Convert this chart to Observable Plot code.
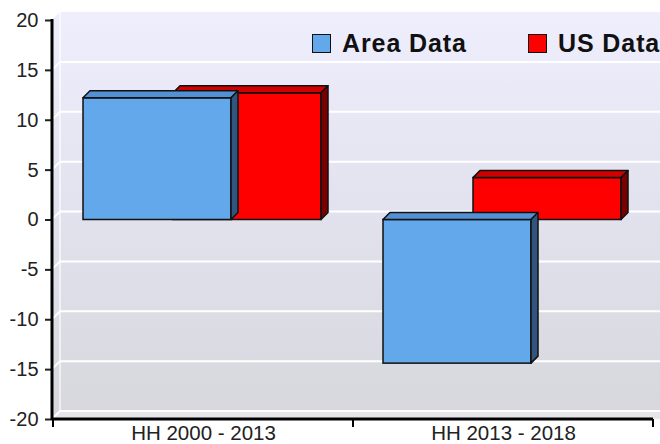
<!DOCTYPE html>
<html>
<head>
<meta charset="utf-8">
<script src="https://cdn.jsdelivr.net/npm/d3@7"></script>
<script src="https://cdn.jsdelivr.net/npm/@observablehq/plot@0.6"></script>
<style>
  body { margin: 0; background: #fff; }
  #wrap { position: relative; width: 660px; height: 444px; font-family: "Liberation Sans", Arial, sans-serif; overflow: hidden; }
  .item { position: absolute; top: 33px; height: 20px; display: flex; align-items: center; font-weight: bold; font-size: 25px; letter-spacing: 0.9px; color: #111; white-space: nowrap; z-index: 2; }
  .sw { width: 17px; height: 17px; border: 1.5px solid #111; margin-right: 11px; flex: none; }
  #wrap svg g[aria-label="y-axis tick"] path { stroke-width: 2; }
  #wrap svg g[aria-label="x-axis tick label"] text { font-size: 20.5px; }
</style>
</head>
<body>
<div id="wrap"></div>
<script>
// ---- data ----
const categories = ["HH 2000 - 2013", "HH 2013 - 2018"];
const seriesNames = ["Area Data", "US Data"];
const areaValues = [12.2, -14.4];
const usValues = [12.7, 4.2];
const yTicks = [-20, -15, -10, -5, 0, 5, 10, 15, 20];
const seriesColors = {
  "Area Data": { front: "#63a8eb", top: "#5390d4", side: "#30557f" },
  "US Data": { front: "#ff0000", top: "#d00000", side: "#780000" }
};

const areaRows = categories.map((c, i) => ({ category: c, value: areaValues[i] }));
const usRows = categories.map((c, i) => ({ category: c, value: usValues[i] }));

const BAR_DEPTH = 7;
const WALL_DEPTH = 8;
const W = 660, H = 444;
const ML = 52, MR = 7, MT = 20, MB = 25;

function bandwidthOf(scales, dims) {
  if (scales.x && typeof scales.x.bandwidth === "function") return scales.x.bandwidth();
  return (dims.width - dims.marginLeft - dims.marginRight) / categories.length;
}

// background walls + gridlines
function walls(index, scales, values, dims) {
  const g = d3.create("svg:g");
  const id = "wallGrad";
  const defs = g.append("defs");
  const lg = defs.append("linearGradient").attr("id", id).attr("x1", 0).attr("y1", 0).attr("x2", 0).attr("y2", 1);
  lg.append("stop").attr("offset", "0%").attr("stop-color", "#eeeefd");
  lg.append("stop").attr("offset", "50%").attr("stop-color", "#e2e2ee");
  lg.append("stop").attr("offset", "100%").attr("stop-color", "#d7d7dd");
  const yt = scales.y(d3.max(yTicks)), yb = scales.y(d3.min(yTicks));
  const x0 = dims.marginLeft, x1 = dims.width;
  const d = WALL_DEPTH;
  g.append("rect").attr("x", x0 + d).attr("y", yt - d).attr("width", x1 - x0 - d).attr("height", yb - yt)
    .attr("fill", `url(#${id})`);
  g.append("path").attr("d", `M${x0},${yt}L${x0 + d},${yt - d}L${x0 + d},${yb - d}L${x0},${yb}Z`)
    .attr("fill", `url(#${id})`);
  g.append("path").attr("d", `M${x0},${yb}L${x0 + d},${yb - d}L${x1},${yb - d}L${x1},${yb}Z`)
    .attr("fill", "#e6e6ea");
  g.append("line").attr("x1", x0 + d).attr("x2", x0 + d).attr("y1", yt - d).attr("y2", yb - d)
    .attr("stroke", "#fff").attr("stroke-opacity", 0.8).attr("stroke-width", 1.5);
  for (const t of yTicks) {
    if (t === d3.max(yTicks)) continue;
    const y = scales.y(t);
    g.append("path").attr("d", `M${x0},${y}L${x0 + d},${y - d}L${x1},${y - d}`)
      .attr("fill", "none").attr("stroke", "#fff").attr("stroke-width", 2);
  }
  return g.node();
}

// 3D top and side faces for a series
function faces(rows, insetLeft, insetRight, colors) {
  return (index, scales, values, dims) => {
    const g = d3.create("svg:g").attr("stroke", "#111").attr("stroke-width", 1.5).attr("stroke-linejoin", "round");
    const bw = bandwidthOf(scales, dims);
    const d = BAR_DEPTH;
    for (const r of rows) {
      const xa = scales.x(r.category) + insetLeft;
      const xb = scales.x(r.category) + bw - insetRight;
      const yTop = scales.y(Math.max(r.value, 0));
      const yBot = scales.y(Math.min(r.value, 0));
      g.append("path").attr("fill", colors.top)
        .attr("d", `M${xa},${yTop}L${xa + d},${yTop - d}L${xb + d},${yTop - d}L${xb},${yTop}Z`);
      g.append("path").attr("fill", colors.side)
        .attr("d", `M${xb},${yTop}L${xb + d},${yTop - d}L${xb + d},${yBot - d}L${xb},${yBot}Z`);
    }
    return g.node();
  };
}

// axis lines and category boundary ticks
function axisLines(index, scales, values, dims) {
  const g = d3.create("svg:g").attr("stroke", "#000");
  const yt = scales.y(d3.max(yTicks)), yb = scales.y(d3.min(yTicks));
  const x0 = dims.marginLeft, x1 = dims.width - dims.marginRight;
  g.append("line").attr("x1", x0).attr("x2", x0).attr("y1", yt - 1).attr("y2", yb + 1).attr("stroke-width", 3);
  g.append("line").attr("x1", x0).attr("x2", x1).attr("y1", yb).attr("y2", yb).attr("stroke-width", 3);
  const bw = bandwidthOf(scales, dims);
  const bounds = categories.map(c => scales.x(c)).concat([scales.x(categories[categories.length - 1]) + bw]);
  for (const bx of bounds) {
    g.append("line").attr("x1", bx).attr("x2", bx).attr("y1", yb).attr("y2", yb + 8).attr("stroke-width", 2);
  }
  return g.node();
}

const blueIn = { left: 30, right: 122 };
const redIn = { left: 120, right: 32 };

const chart = Plot.plot({
  width: W,
  height: H,
  marginLeft: ML,
  marginRight: MR,
  marginTop: MT,
  marginBottom: MB,
  style: { fontSize: "20px", fontFamily: "Liberation Sans, Arial, sans-serif", color: "#222", background: "transparent", overflow: "visible" },
  x: { domain: categories, padding: 0, tickSize: 0, tickPadding: 6, label: null },
  y: { domain: [d3.min(yTicks), d3.max(yTicks)], ticks: yTicks, tickSize: 7, tickPadding: 7, tickFormat: d => `${d}`, label: null },
  marks: [
    walls,
    Plot.barY(usRows, { x: "category", y: "value", fill: seriesColors["US Data"].front, stroke: "#111", strokeWidth: 1.5, insetLeft: redIn.left, insetRight: redIn.right }),
    faces(usRows, redIn.left, redIn.right, seriesColors["US Data"]),
    Plot.barY(areaRows, { x: "category", y: "value", fill: seriesColors["Area Data"].front, stroke: "#111", strokeWidth: 1.5, insetLeft: blueIn.left, insetRight: blueIn.right }),
    faces(areaRows, blueIn.left, blueIn.right, seriesColors["Area Data"]),
    axisLines
  ]
});

const wrap = document.getElementById("wrap");
wrap.appendChild(chart);

// legend overlay
const legendLefts = [312, 528];
seriesNames.forEach((name, i) => {
  const item = document.createElement("div");
  item.className = "item";
  item.style.left = legendLefts[i] + "px";
  const sw = document.createElement("span");
  sw.className = "sw";
  sw.style.background = seriesColors[name].front;
  const tx = document.createElement("span");
  tx.textContent = name;
  item.appendChild(sw);
  item.appendChild(tx);
  wrap.appendChild(item);
});
</script>
</body>
</html>
